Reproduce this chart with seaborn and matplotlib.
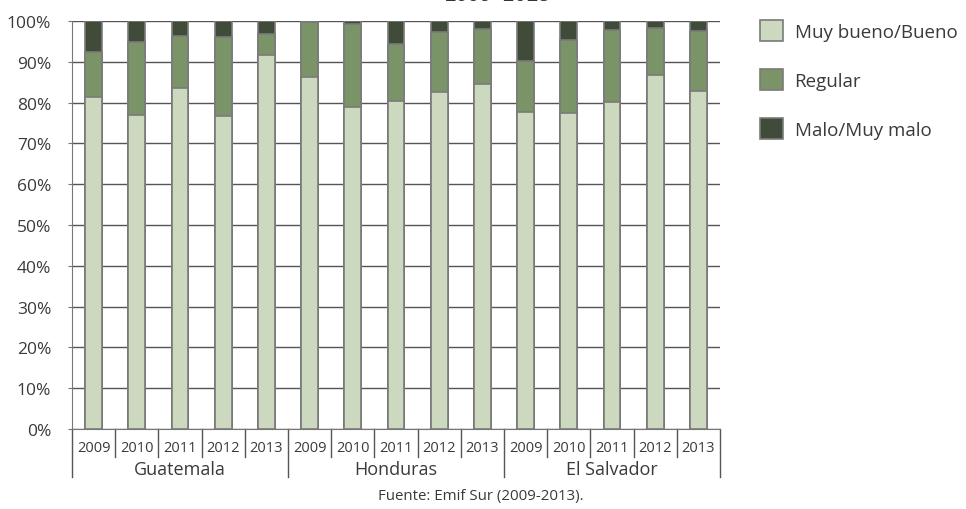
import matplotlib.pyplot as plt
import numpy as np
import pandas as pd
import seaborn as sns
from matplotlib.patches import Patch

countries = ['Guatemala', 'Honduras', 'El Salvador']
years = ['2009', '2010', '2011', '2012', '2013']

# percent "Muy bueno/Bueno" and "Regular" per country, 2009-2013
bueno = [81.3, 77.0, 83.5, 76.7, 91.7,
         86.3, 78.8, 80.5, 82.5, 84.6,
         77.6, 77.4, 80.1, 86.8, 82.9]
regular = [11.2, 17.9, 12.9, 19.3, 5.1,
           13.4, 20.5, 13.9, 14.7, 13.4,
           12.7, 17.9, 17.7, 11.4, 14.7]
malo = [100 - b - r for b, r in zip(bueno, regular)]

labels = ['Muy bueno/Bueno', 'Regular', 'Malo/Muy malo']
colors = ['#cdd9bf', '#7a9468', '#404b3a']
edge = '#7a7a7a'

df = pd.DataFrame({
    'country': np.repeat(countries, len(years)),
    'year': years * len(countries),
    'bueno': bueno,
    'regular': regular,
    'malo': malo,
})
df['key'] = df['country'] + ' ' + df['year']
df['c_reg'] = df['bueno'] + df['regular']
df['c_all'] = df['c_reg'] + df['malo']
order = list(df['key'])

plt.rcParams['font.family'] = ['Open Sans', 'DejaVu Sans']
fig = plt.figure(figsize=(9.66, 5.10), dpi=100)
ax = fig.add_axes([72 / 966, 1 - 430 / 510, 648 / 966, 408 / 510])

for col, c in [('c_all', colors[2]), ('c_reg', colors[1]), ('bueno', colors[0])]:
    sns.barplot(data=df, x='key', y=col, order=order, color=c, width=0.39,
                edgecolor=edge, linewidth=1.2, saturation=1, ax=ax, zorder=3)

ax.set_xlim(-0.5, len(order) - 0.5)
ax.set_ylim(0, 100)
ax.set_yticks(range(0, 101, 10))
ax.set_yticklabels([f'{v}%' for v in range(0, 101, 10)], fontsize=12.5, color='#3a3a3a')
ax.yaxis.grid(True, color='#555555', linewidth=1)
ax.set_axisbelow(True)
ax.set_xlabel('')
ax.set_ylabel('')
ax.set_xticks([])
for s in ['top', 'right']:
    ax.spines[s].set_visible(False)
ax.spines['left'].set_color('#777777')
ax.spines['bottom'].set_color('#777777')
ax.tick_params(axis='y', length=3, color='#777777', pad=12)

tr = ax.get_xaxis_transform()
for i, y in enumerate(df['year']):
    ax.text(i, -0.045, y, transform=tr, ha='center', va='center',
            fontsize=10.5, color='#3a3a3a')
for i in range(len(order) + 1):
    x = i - 0.5
    bottom = -0.118 if i % len(years) == 0 else -0.069
    ax.plot([x, x], [0, bottom], transform=tr, color='#555555',
            linewidth=1, clip_on=False)
for j, c in enumerate(countries):
    ax.text(j * len(years) + 2, -0.099, c, transform=tr, ha='center',
            va='center', fontsize=13, color='#3a3a3a')

handles = [Patch(facecolor=c, edgecolor=edge, linewidth=1.2) for c in colors]
fig.legend(handles, labels, loc='upper left', bbox_to_anchor=(743 / 966, 1 - 4 / 510),
           frameon=False, fontsize=13.5, handlelength=1.25, handleheight=1.35,
           labelspacing=1.5, handletextpad=0.6, labelcolor='#3a3a3a')

fig.text(481 / 966, 1 - 497 / 510, 'Fuente: Emif Sur (2009-2013).', ha='center',
         va='center', fontsize=10.8, color='#3a3a3a')
fig.text(498 / 966, 1 - 1 / 510, '2009-2013', ha='center', va='baseline',
         fontsize=14, fontweight='bold', family=['Liberation Mono', 'DejaVu Sans Mono'],
         color='#333333')

fig.savefig('out.png', dpi=100)
